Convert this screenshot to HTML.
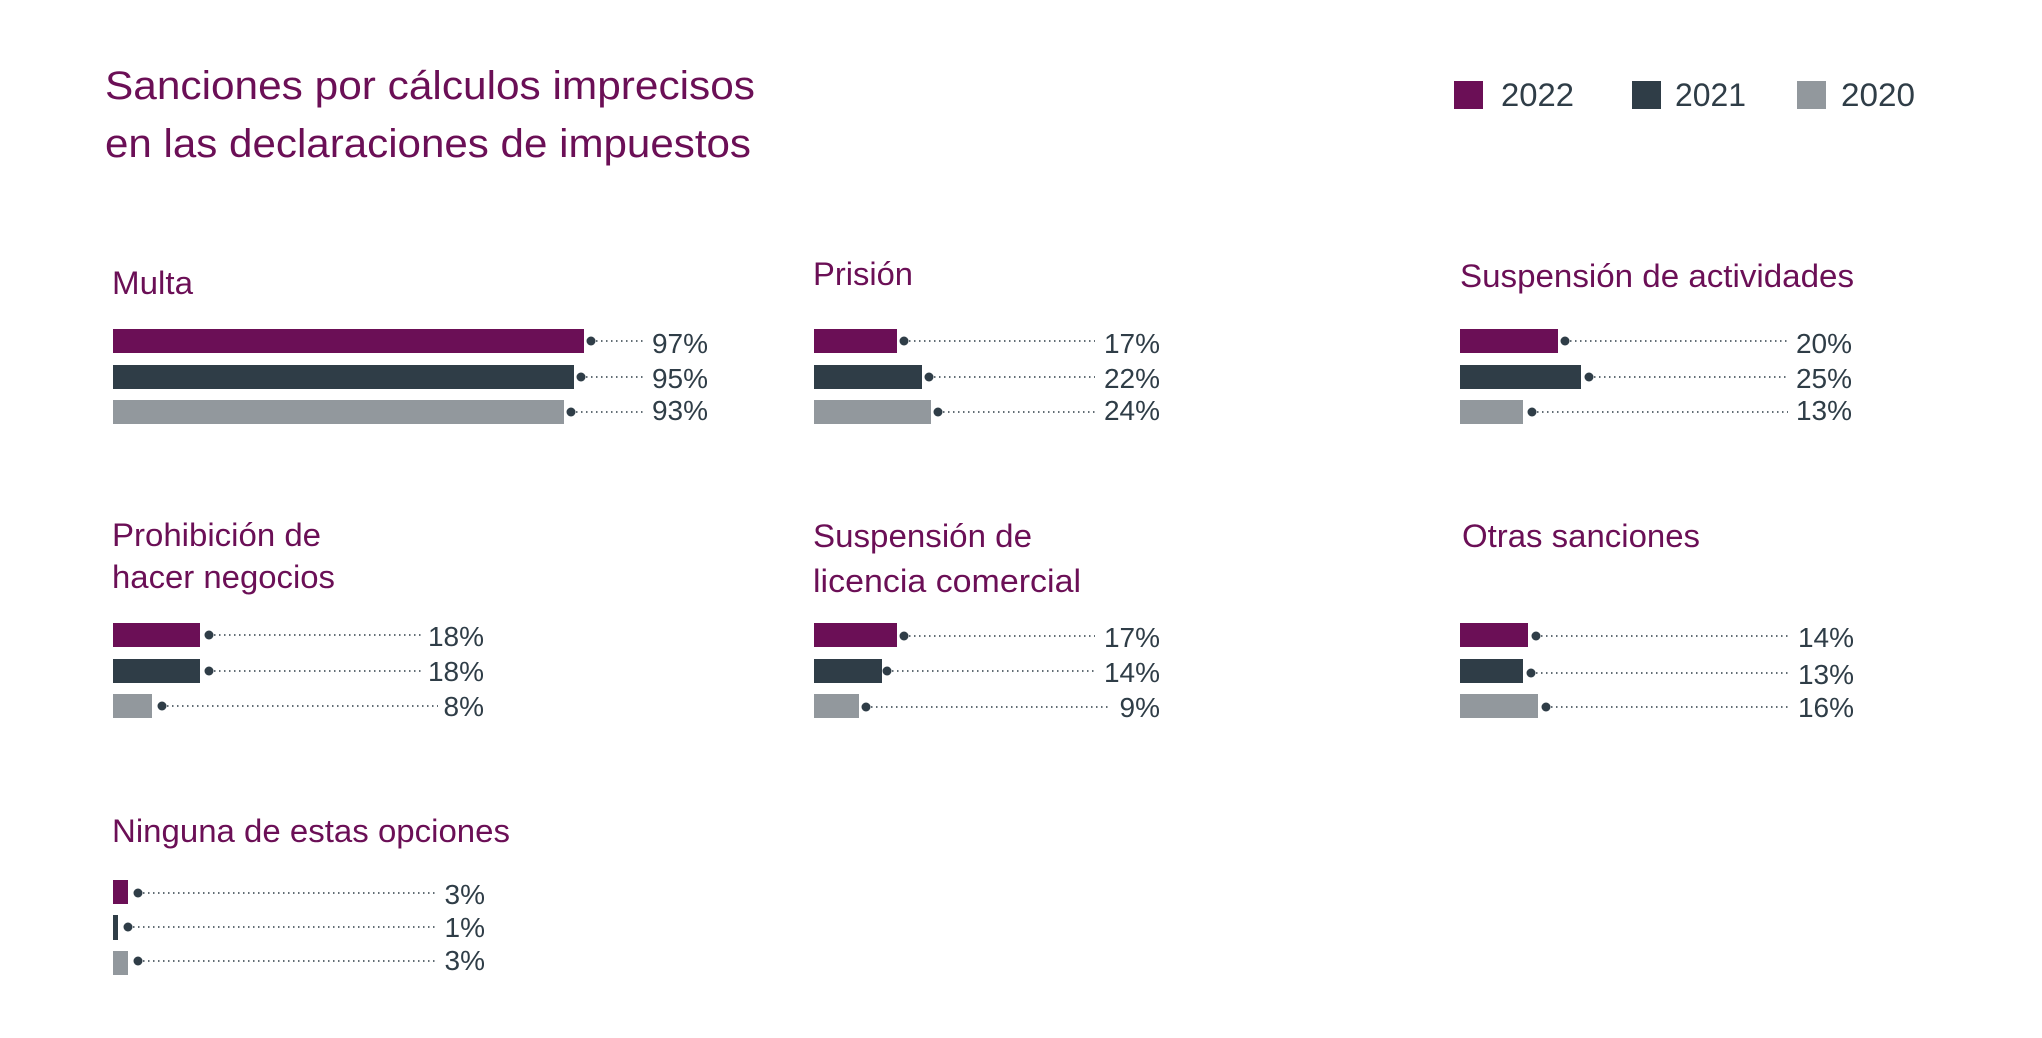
<!DOCTYPE html>
<html><head><meta charset="utf-8"><style>
html,body{margin:0;padding:0;background:#fff;}
svg{display:block;}
.t{font-family:"Liberation Sans",sans-serif;fill:#6b0f56;}
.v{font-family:"Liberation Sans",sans-serif;fill:#2f3d47;font-size:28px;text-anchor:end;}
.l{font-family:"Liberation Sans",sans-serif;fill:#2f3d47;font-size:32px;}
.d{stroke:#2f3d47;stroke-width:1.5;stroke-dasharray:1.5 3.5;}
</style></head><body>
<svg width="2042" height="1038" viewBox="0 0 2042 1038" xmlns="http://www.w3.org/2000/svg">
<text class="t" x="105" y="99" font-size="40" textLength="650" lengthAdjust="spacingAndGlyphs">Sanciones por cálculos imprecisos</text>
<text class="t" x="105" y="157" font-size="40" textLength="646" lengthAdjust="spacingAndGlyphs">en las declaraciones de impuestos</text>

<rect x="1454" y="81" width="29" height="28" fill="#6b0f56"/>
<text class="l" x="1501" y="106" textLength="73" lengthAdjust="spacingAndGlyphs">2022</text>
<rect x="1632" y="81" width="29" height="28" fill="#2f3d47"/>
<text class="l" x="1675" y="106" textLength="71" lengthAdjust="spacingAndGlyphs">2021</text>
<rect x="1797" y="81" width="29" height="28" fill="#92989d"/>
<text class="l" x="1841" y="106" textLength="74" lengthAdjust="spacingAndGlyphs">2020</text>

<text class="t" x="112" y="294" font-size="32" textLength="81" lengthAdjust="spacingAndGlyphs">Multa</text>
<text class="t" x="813" y="285" font-size="32" textLength="100" lengthAdjust="spacingAndGlyphs">Prisión</text>
<text class="t" x="1460" y="287" font-size="32" textLength="394" lengthAdjust="spacingAndGlyphs">Suspensión de actividades</text>
<text class="t" x="112" y="546" font-size="32" textLength="209" lengthAdjust="spacingAndGlyphs">Prohibición de</text>
<text class="t" x="112" y="588" font-size="32" textLength="223" lengthAdjust="spacingAndGlyphs">hacer negocios</text>
<text class="t" x="813" y="547" font-size="32" textLength="219" lengthAdjust="spacingAndGlyphs">Suspensión de</text>
<text class="t" x="813" y="592" font-size="32" textLength="268" lengthAdjust="spacingAndGlyphs">licencia comercial</text>
<text class="t" x="1462" y="547" font-size="32" textLength="238" lengthAdjust="spacingAndGlyphs">Otras sanciones</text>
<text class="t" x="112" y="842" font-size="32" textLength="398" lengthAdjust="spacingAndGlyphs">Ninguna de estas opciones</text>

<rect x="113" y="329" width="471" height="24" fill="#6b0f56"/><circle cx="591" cy="341" r="4.5" fill="#2f3d47"/><line class="d" x1="596" y1="341" x2="645" y2="341"/><text class="v" x="708" y="353">97%</text>
<rect x="113" y="365" width="461" height="24" fill="#2f3d47"/><circle cx="581" cy="377" r="4.5" fill="#2f3d47"/><line class="d" x1="586" y1="377" x2="645" y2="377"/><text class="v" x="708" y="388">95%</text>
<rect x="113" y="400" width="451" height="24" fill="#92989d"/><circle cx="571" cy="412" r="4.5" fill="#2f3d47"/><line class="d" x1="576" y1="412" x2="645" y2="412"/><text class="v" x="708" y="420">93%</text>
<rect x="814" y="329" width="83" height="24" fill="#6b0f56"/><circle cx="904" cy="341" r="4.5" fill="#2f3d47"/><line class="d" x1="909" y1="341" x2="1095" y2="341"/><text class="v" x="1160" y="353">17%</text>
<rect x="814" y="365" width="108" height="24" fill="#2f3d47"/><circle cx="929" cy="377" r="4.5" fill="#2f3d47"/><line class="d" x1="934" y1="377" x2="1095" y2="377"/><text class="v" x="1160" y="388">22%</text>
<rect x="814" y="400" width="117" height="24" fill="#92989d"/><circle cx="938" cy="412" r="4.5" fill="#2f3d47"/><line class="d" x1="943" y1="412" x2="1095" y2="412"/><text class="v" x="1160" y="420">24%</text>
<rect x="1460" y="329" width="98" height="24" fill="#6b0f56"/><circle cx="1565" cy="341" r="4.5" fill="#2f3d47"/><line class="d" x1="1570" y1="341" x2="1788" y2="341"/><text class="v" x="1852" y="353">20%</text>
<rect x="1460" y="365" width="121" height="24" fill="#2f3d47"/><circle cx="1589" cy="377" r="4.5" fill="#2f3d47"/><line class="d" x1="1594" y1="377" x2="1788" y2="377"/><text class="v" x="1852" y="388">25%</text>
<rect x="1460" y="400" width="63" height="24" fill="#92989d"/><circle cx="1532" cy="412" r="4.5" fill="#2f3d47"/><line class="d" x1="1537" y1="412" x2="1788" y2="412"/><text class="v" x="1852" y="420">13%</text>

<rect x="113" y="623" width="87" height="24" fill="#6b0f56"/><circle cx="209" cy="635" r="4.5" fill="#2f3d47"/><line class="d" x1="214" y1="635" x2="423" y2="635"/><text class="v" x="484" y="646">18%</text>
<rect x="113" y="659" width="87" height="24" fill="#2f3d47"/><circle cx="209" cy="671" r="4.5" fill="#2f3d47"/><line class="d" x1="214" y1="671" x2="423" y2="671"/><text class="v" x="484" y="681">18%</text>
<rect x="113" y="694" width="39" height="24" fill="#92989d"/><circle cx="162" cy="706" r="4.5" fill="#2f3d47"/><line class="d" x1="167" y1="706" x2="438" y2="706"/><text class="v" x="484" y="716">8%</text>
<rect x="814" y="623" width="83" height="24" fill="#6b0f56"/><circle cx="904" cy="636" r="4.5" fill="#2f3d47"/><line class="d" x1="909" y1="636" x2="1095" y2="636"/><text class="v" x="1160" y="647">17%</text>
<rect x="814" y="659" width="68" height="24" fill="#2f3d47"/><circle cx="887" cy="671" r="4.5" fill="#2f3d47"/><line class="d" x1="892" y1="671" x2="1095" y2="671"/><text class="v" x="1160" y="682">14%</text>
<rect x="814" y="694" width="45" height="24" fill="#92989d"/><circle cx="866" cy="707" r="4.5" fill="#2f3d47"/><line class="d" x1="871" y1="707" x2="1110" y2="707"/><text class="v" x="1160" y="717">9%</text>
<rect x="1460" y="623" width="68" height="24" fill="#6b0f56"/><circle cx="1536" cy="636" r="4.5" fill="#2f3d47"/><line class="d" x1="1541" y1="636" x2="1790" y2="636"/><text class="v" x="1854" y="647">14%</text>
<rect x="1460" y="659" width="63" height="24" fill="#2f3d47"/><circle cx="1531" cy="673" r="4.5" fill="#2f3d47"/><line class="d" x1="1536" y1="673" x2="1790" y2="673"/><text class="v" x="1854" y="684">13%</text>
<rect x="1460" y="694" width="78" height="24" fill="#92989d"/><circle cx="1546" cy="707" r="4.5" fill="#2f3d47"/><line class="d" x1="1551" y1="707" x2="1790" y2="707"/><text class="v" x="1854" y="717">16%</text>

<rect x="113" y="880" width="15" height="24" fill="#6b0f56"/><circle cx="138" cy="893" r="4.5" fill="#2f3d47"/><line class="d" x1="143" y1="893" x2="436" y2="893"/><text class="v" x="485" y="904">3%</text>
<rect x="113" y="915" width="5" height="25" fill="#2f3d47"/><circle cx="128" cy="927" r="4.5" fill="#2f3d47"/><line class="d" x1="133" y1="927" x2="436" y2="927"/><text class="v" x="485" y="937">1%</text>
<rect x="113" y="951" width="15" height="24" fill="#92989d"/><circle cx="138" cy="961" r="4.5" fill="#2f3d47"/><line class="d" x1="143" y1="961" x2="436" y2="961"/><text class="v" x="485" y="970">3%</text>
</svg>
</body></html>
